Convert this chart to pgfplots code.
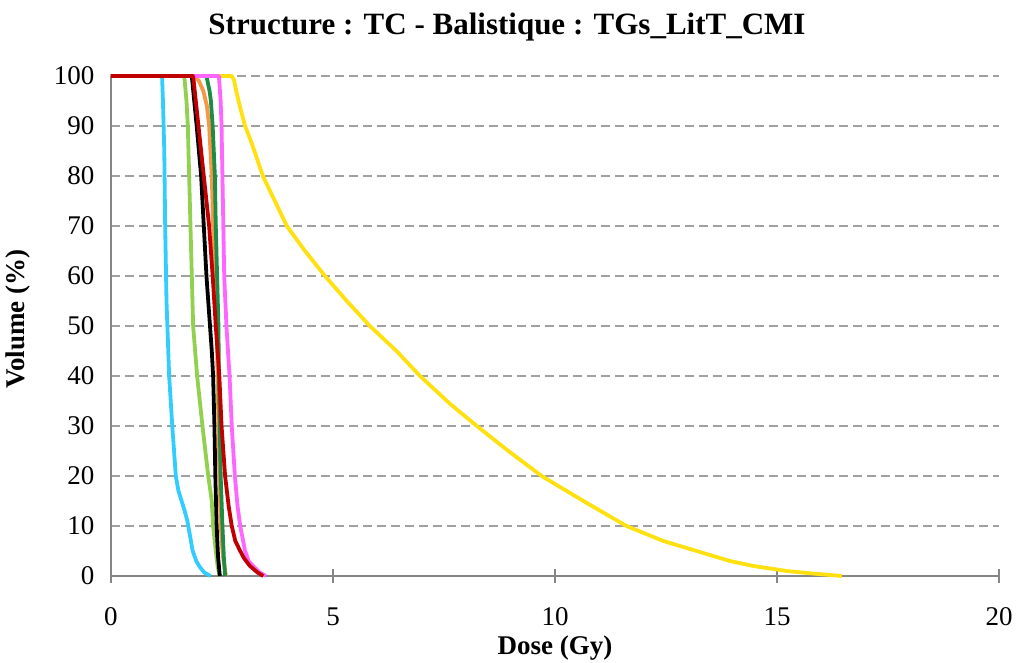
\documentclass[border=0pt]{standalone}
\usepackage{fontspec}
\setmainfont{Liberation Serif}
\usepackage{pgfplots}
\pgfplotsset{compat=1.18}
\definecolor{axisgray}{HTML}{868686}
\definecolor{gridgray}{HTML}{A0A0A0}
\definecolor{ccyan}{HTML}{33CCFF}
\definecolor{clgreen}{HTML}{92D050}
\definecolor{cred}{HTML}{C00000}
\definecolor{corange}{HTML}{F79646}
\definecolor{cdgreen}{HTML}{1E8C45}
\definecolor{cpink}{HTML}{FF66FF}
\definecolor{cyellow}{HTML}{FFE010}
\begin{document}
\begin{tikzpicture}
\path[use as bounding box] (-111bp,-87bp) rectangle (909bp,576bp);
\begin{axis}[at={(0,0)}, anchor=south west, scale only axis,
  width=888bp, height=500bp,
  xmin=0, xmax=20, ymin=0, ymax=100,
  axis x line=bottom, axis y line=left,
  axis line style={draw=axisgray, line width=1.3bp, -},
  xtick={0,5,10,15,20}, ytick={0,10,...,100},
  ymajorgrids,
  grid style={draw=gridgray, line width=1.2bp, dash pattern=on 9bp off 5bp},
  xtick align=center, major tick length=14bp,
  xtick style={draw=axisgray, line width=1.3bp},
  ytick style={draw=none},
  /pgf/number format/assume math mode=true,
  tick label style={font=\fontsize{27bp}{30bp}\selectfont},
  xticklabel style={anchor=base, yshift=-42bp},
  yticklabel style={anchor=east, xshift=-6bp},
  every axis plot/.append style={line width=3.8bp, line join=round, mark=none},
  clip=false,
]
\addplot[cyellow] coordinates {(0,100)(2.72,100)(2.77,99.2)(2.82,97)(2.90,94)(3.02,90)(3.13,87.5)(3.25,84.5)(3.42,80)(3.69,75)(3.96,70)(4.37,65)(4.82,60)(5.31,55)(5.83,50)(6.43,45)(6.96,40)(7.64,34.4)(8.24,30)(8.95,25)(9.70,20)(10.64,15)(11.61,10)(12.44,7)(13.19,5)(13.94,3)(14.47,2)(15.22,1)(15.8,0.5)(16.46,0)};
\addplot[ccyan] coordinates {(0,100)(1.15,100)(1.17,95)(1.20,85)(1.22,70)(1.25,55)(1.27,50)(1.31,40)(1.38,30)(1.46,20)(1.52,17)(1.59,15)(1.66,13)(1.72,11)(1.78,8)(1.84,5)(1.92,3)(2.0,1.8)(2.1,0.7)(2.24,0)};
\addplot[clgreen] coordinates {(0,100)(1.65,100)(1.70,95)(1.73,90)(1.76,80)(1.79,70)(1.82,60)(1.85,50)(1.94,40)(2.06,30)(2.19,20)(2.27,15)(2.30,10)(2.36,5)(2.40,2)(2.45,0)};
\addplot[black] coordinates {(0,100)(1.82,100)(1.93,90)(2.03,80)(2.09,70)(2.15,60)(2.23,50)(2.27,45)(2.30,40)(2.33,30)(2.35,20)(2.38,10)(2.41,4)(2.45,0)};
\addplot[corange] coordinates {(0,100)(1.89,100)(1.98,99)(2.08,97)(2.16,94)(2.21,90)(2.27,80)(2.30,70)(2.34,60)(2.38,50)(2.40,40)(2.42,30)(2.44,20)(2.47,10)(2.52,4)(2.59,0)};
\addplot[cdgreen] coordinates {(0,100)(2.15,100)(2.22,97)(2.25,95)(2.29,90)(2.34,80)(2.36,70)(2.39,60)(2.42,50)(2.43,40)(2.45,30)(2.47,20)(2.51,10)(2.54,4)(2.57,0)};
\addplot[cpink] coordinates {(0,100)(2.43,100)(2.47,95)(2.49,90)(2.51,80)(2.53,70)(2.55,60)(2.60,50)(2.67,40)(2.72,30)(2.79,20)(2.85,14)(2.91,10)(3.02,5)(3.1,3)(3.20,2)(3.35,0.7)(3.49,0)};
\addplot[cred] coordinates {(0,100)(1.85,100)(1.97,90)(2.09,80)(2.21,70)(2.29,60)(2.36,50)(2.44,40)(2.49,30)(2.57,20)(2.65,14)(2.72,10)(2.80,7)(2.91,5)(3.0,3.5)(3.13,2)(3.3,0.7)(3.43,0)};
\end{axis}
\node[font=\fontsize{31bp}{34bp}\selectfont\bfseries] at (396bp,549bp) {Structure : TC - Balistique : TGs\_LitT\_CMI};
\node[font=\fontsize{27bp}{30bp}\selectfont\bfseries] at (444bp,-72bp) {Dose (Gy)};
\node[font=\fontsize{27bp}{30bp}\selectfont\bfseries, rotate=90] at (-93bp,257bp) {Volume (\%)};
\end{tikzpicture}
\end{document}
